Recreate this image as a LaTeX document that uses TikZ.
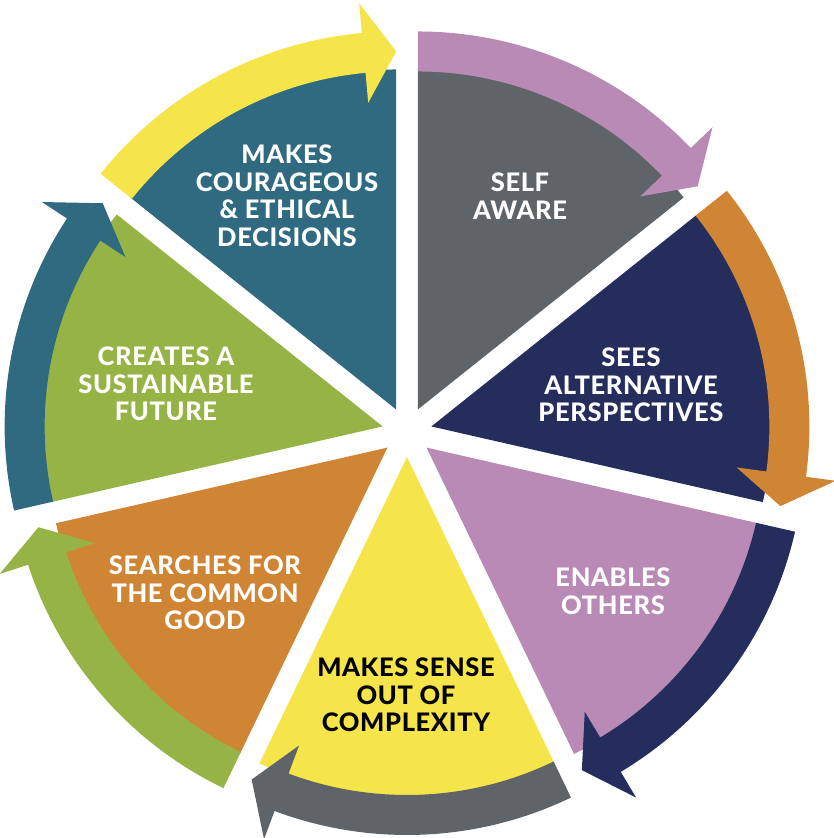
\documentclass[tikz,border=0pt]{standalone}
\usepackage{fontspec}
\setmainfont{Lato}[BoldFont={Lato Heavy}, LetterSpace=2.5]
\usepackage{tikz}

\definecolor{segGray}{RGB}{95,100,105}
\definecolor{segNavy}{RGB}{36,45,92}
\definecolor{segMauve}{RGB}{184,138,181}
\definecolor{segYellow}{RGB}{245,229,75}
\definecolor{segOrange}{RGB}{208,133,53}
\definecolor{segGreen}{RGB}{150,180,70}
\definecolor{segTeal}{RGB}{47,106,128}

\begin{document}
\begin{tikzpicture}[x=1pt, y=1pt,
    segtext/.style={font=\fontsize{25.5}{27.5}\selectfont\bfseries, text=white,
                    align=center, inner sep=0pt}]
  \useasboundingbox (-407,-406) rectangle (427,432);
  % self aware
  \fill[segGray, shift={(64.286:25)}] (0,0) -- (90:340)
    arc[start angle=90, end angle=38.571, radius=340] -- cycle;
  \fill[segMauve, shift={(64.286:25)}] (90:378)
    arc[start angle=90, end angle=43.771, radius=378] -- (43.771:408) -- (38.571:358)
    -- (43.771:308) -- (43.771:338) arc[start angle=43.771, end angle=90, radius=338] -- cycle;
  \node[segtext] (self) at (113,236) {SELF\\AWARE};
  % sees alternative perspectives
  \fill[segNavy, shift={(12.857:25)}] (0,0) -- (38.571:340)
    arc[start angle=38.571, end angle=-12.857, radius=340] -- cycle;
  \fill[segOrange, shift={(12.857:25)}] (38.571:378)
    arc[start angle=38.571, end angle=-7.657, radius=378] -- (-7.657:408) -- (-12.857:358)
    -- (-7.657:308) -- (-7.657:338) arc[start angle=-7.657, end angle=38.571, radius=338] -- cycle;
  \node[segtext] (sees) at (224,47) {SEES\\ALTERNATIVE\\PERSPECTIVES};
  % enables others
  \fill[segMauve, shift={(-38.571:25)}] (0,0) -- (-12.857:340)
    arc[start angle=-12.857, end angle=-64.286, radius=340] -- cycle;
  \fill[segNavy, shift={(-38.571:25)}] (-12.857:378)
    arc[start angle=-12.857, end angle=-59.086, radius=378] -- (-59.086:408) -- (-64.286:358)
    -- (-59.086:308) -- (-59.086:338) arc[start angle=-59.086, end angle=-12.857, radius=338] -- cycle;
  \node[segtext] (enables) at (206,-159) {ENABLES\\OTHERS};
  % makes sense out of complexity
  \fill[segYellow, shift={(-90:25)}] (0,0) -- (-64.286:340)
    arc[start angle=-64.286, end angle=-115.714, radius=340] -- cycle;
  \fill[segGray, shift={(-90:25)}] (-64.286:378)
    arc[start angle=-64.286, end angle=-110.514, radius=378] -- (-110.514:408) -- (-115.714:358)
    -- (-110.514:308) -- (-110.514:338) arc[start angle=-110.514, end angle=-64.286, radius=338] -- cycle;
  \node[segtext, text=black] (sense) at (-1,-263) {MAKES SENSE\\OUT OF\\COMPLEXITY};
  % searches for the common good
  \fill[segOrange, shift={(-141.429:25)}] (0,0) -- (-115.714:340)
    arc[start angle=-115.714, end angle=-167.143, radius=340] -- cycle;
  \fill[segGreen, shift={(-141.429:25)}] (-115.714:378)
    arc[start angle=-115.714, end angle=-161.943, radius=378] -- (-161.943:408) -- (-167.143:358)
    -- (-161.943:308) -- (-161.943:338) arc[start angle=-161.943, end angle=-115.714, radius=338] -- cycle;
  \node[segtext] (searches) at (-202,-161) {SEARCHES FOR\\THE COMMON\\GOOD};
  % creates a sustainable future
  \fill[segGreen, shift={(167.143:25)}] (0,0) -- (192.857:340)
    arc[start angle=192.857, end angle=141.429, radius=340] -- cycle;
  \fill[segTeal, shift={(167.143:25)}] (192.857:378)
    arc[start angle=192.857, end angle=146.629, radius=378] -- (146.629:408) -- (141.429:358)
    -- (146.629:308) -- (146.629:338) arc[start angle=146.629, end angle=192.857, radius=338] -- cycle;
  \node[segtext] (creates) at (-241,48) {CREATES A\\SUSTAINABLE\\FUTURE};
  % makes courageous & ethical decisions
  \fill[segTeal, shift={(115.714:25)}] (0,0) -- (141.429:340)
    arc[start angle=141.429, end angle=90, radius=340] -- cycle;
  \fill[segYellow, shift={(115.714:25)}] (141.429:378)
    arc[start angle=141.429, end angle=95.2, radius=378] -- (95.2:408) -- (90:358)
    -- (95.2:308) -- (95.2:338) arc[start angle=95.2, end angle=141.429, radius=338] -- cycle;
  \node[segtext] (courage) at (-120,236) {MAKES\\COURAGEOUS\\\&~ETHICAL\\DECISIONS};
\end{tikzpicture}
\end{document}
